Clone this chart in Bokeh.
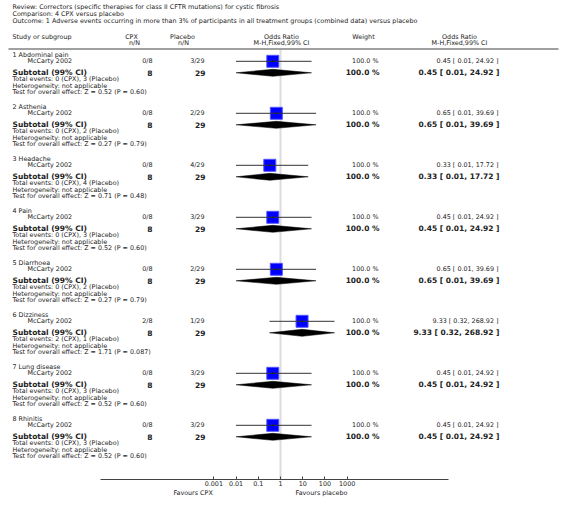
from bokeh.plotting import figure
from bokeh.models import (Range1d, LinearScale, LogAxis, FixedTicker,
                          CustomJSTickFormatter, ColumnDataSource)
from bokeh.core.properties import value
from bokeh.embed import file_html
from bokeh.resources import INLINE

# ---------------- data ----------------
review = "Review:  Correctors (specific therapies for class II CFTR mutations) for cystic fibrosis"
comparison = "Comparison:  4 CPX versus placebo"
outcome = ("Outcome:  1 Adverse events occurring in more than 3% of participants "
           "in all treatment groups (combined data) versus placebo")

subgroups = ["1 Abdominal pain", "2 Asthenia", "3 Headache", "4 Pain",
             "5 Diarrhoea", "6 Dizziness", "7 Lung disease", "8 Rhinitis"]
studies = ["McCarty 2002"] * 8
cpx_events = [0, 0, 0, 0, 0, 2, 0, 0]
cpx_total = [8, 8, 8, 8, 8, 8, 8, 8]
placebo_events = [3, 2, 4, 3, 2, 1, 3, 3]
placebo_total = [29, 29, 29, 29, 29, 29, 29, 29]
odds_ratio = [0.45, 0.65, 0.33, 0.45, 0.65, 9.33, 0.45, 0.45]
ci_low = [0.01, 0.01, 0.01, 0.01, 0.01, 0.32, 0.01, 0.01]
ci_high = [24.92, 39.69, 17.72, 24.92, 39.69, 268.92, 24.92, 24.92]
weights = [100.0, 100.0, 100.0, 100.0, 100.0, 100.0, 100.0, 100.0]
z_values = ["0.52", "0.27", "0.71", "0.52", "0.27", "1.71", "0.52", "0.52"]
p_values = ["0.60", "0.79", "0.48", "0.60", "0.79", "0.087", "0.60", "0.60"]
axis_ticks = [0.001, 0.01, 0.1, 1, 10, 100, 1000]
favours_left = "Favours CPX"
favours_right = "Favours placebo"

# ---------------- layout ----------------
W, H = 566, 509
FRAME_BOTTOM = 479          # page y of the axis line
X_ONE = 280.0               # page x of OR = 1
PX_DEC = 22.22              # pixels per decade
FONT = "DejaVu Sans"
FS = "6.4px"
FSB = "7.5px"
TXT = "#222222"


def lg(px):
    return 10 ** ((px - X_ONE) / PX_DEC)


p = figure(width=W, height=H, output_backend="svg", toolbar_location=None,
           x_axis_type="log", x_axis_location=None, y_axis_location=None,
           x_range=Range1d(lg(0), lg(W)), y_range=Range1d(FRAME_BOTTOM, 0),
           min_border_left=0, min_border_right=0, min_border_top=0,
           min_border_bottom=H - FRAME_BOTTOM)
p.extra_x_ranges = {"px": Range1d(0, W)}
p.extra_x_scales = {"px": LinearScale()}
p.grid.visible = False
p.outline_line_color = None
p.background_fill_color = "white"
p.border_fill_color = "white"

texts = {}


def add(x, y, t, align="left", bold=False):
    key = (align, bold)
    d = texts.setdefault(key, {"x": [], "y": [], "t": []})
    d["x"].append(x)
    d["y"].append(y)
    d["t"].append(t)


# titles
add(12, 6.5, review)
add(12, 13.5, comparison)
add(12, 20.5, outcome)

# headers
HY1, HY2 = 36, 42.5
add(12, HY1, "Study or subgroup")
add(131, HY1, "CPX", "center")
add(134, HY2, "n/N", "center")
add(182, HY1, "Placebo", "center")
add(183, HY2, "n/N", "center")
add(281, HY1, "Odds Ratio", "center")
add(281, HY2, "M-H,Fixed,99% CI", "center")
add(363, HY1, "Weight", "center")
add(459, HY1, "Odds Ratio", "center")
add(459, HY2, "M-H,Fixed,99% CI", "center")

# header rule
p.segment(x0=[8], y0=[48.5], x1=[558], y1=[48.5], x_range_name="px",
          line_color="#a0a0a0", line_width=2)

# line of no effect
p.segment(x0=[1], y0=[49.5], x1=[1], y1=[FRAME_BOTTOM], line_color="#dcdcdc",
          line_width=2)

G0, GSTEP = 54.3, 52.0
box_x, box_y, ci_x0, ci_x1, ci_y = [], [], [], [], []
dia_xs, dia_ys = [], []
for g in range(len(subgroups)):
    y0 = G0 + GSTEP * g
    ys = y0 + 6.5
    yt = y0 + 18
    or_txt = "%.2f [ %.2f, %.2f ]" % (odds_ratio[g], ci_low[g], ci_high[g])
    add(12, y0, subgroups[g])
    add(27, ys, studies[g])
    add(152, ys, "%d/%d" % (cpx_events[g], cpx_total[g]), "right")
    add(204, ys, "%d/%d" % (placebo_events[g], placebo_total[g]), "right")
    add(378, ys, "%.1f %%" % weights[g], "right")
    add(498, ys, or_txt, "right")
    add(12, yt, "Subtotal (99% CI)", bold=True)
    add(152, yt, "%d" % cpx_total[g], "right", True)
    add(205, yt, "%d" % placebo_total[g], "right", True)
    add(379, yt, "%.1f %%" % weights[g], "right", True)
    add(499, yt, or_txt, "right", True)
    add(12, y0 + 24.5, "Total events: %d (CPX), %d (Placebo)" % (cpx_events[g], placebo_events[g]))
    add(12, y0 + 31, "Heterogeneity: not applicable")
    add(12, y0 + 37.5, "Test for overall effect: Z = %s (P = %s)" % (z_values[g], p_values[g]))

    box_x.append(odds_ratio[g])
    box_y.append(ys)
    ci_x0.append(ci_low[g])
    ci_x1.append(ci_high[g])
    ci_y.append(ys)
    dia_xs.append([ci_low[g], odds_ratio[g], ci_high[g], odds_ratio[g]])
    dia_ys.append([yt, yt - 3.5, yt, yt + 3.5])

p.patches(xs=dia_xs, ys=dia_ys, fill_color="black", line_color="black", line_width=0.5)
p.scatter(x=box_x, y=box_y, marker="square", size=12, fill_color="#0000ff",
          line_color="#5555ff", line_width=1)
p.segment(x0=ci_x0, y0=ci_y, x1=ci_x1, y1=ci_y, line_color="#333333", line_width=1)
p.scatter(x=box_x, y=box_y, size=2, fill_color="#222222", line_color=None)

for (align, bold), d in texts.items():
    src = ColumnDataSource(dict(x=d["x"], y=d["y"], t=d["t"]))
    p.text(x="x", y="y", text="t", source=src, x_range_name="px",
           text_align=align, text_baseline="middle",
           text_font=value(FONT), text_font_size=FSB if bold else FS,
           text_font_style="bold" if bold else "normal", text_color=TXT)

# bottom axis
ax = LogAxis(ticker=FixedTicker(ticks=axis_ticks),
             formatter=CustomJSTickFormatter(code="return tick.toString()"),
             bounds=(lg(100), lg(448)))
ax.axis_line_color = "#444444"
ax.axis_line_width = 1
ax.major_tick_in = 3
ax.major_tick_out = 0
ax.major_tick_line_color = "#444444"
ax.minor_tick_line_color = None
ax.major_label_standoff = 1
ax.major_label_text_font = FONT
ax.major_label_text_font_size = FS
ax.major_label_text_color = TXT
p.add_layout(ax, "below")

fav_pos = [lg(192.6), lg(321.0)]
ax2 = LogAxis(ticker=FixedTicker(ticks=fav_pos),
              formatter=CustomJSTickFormatter(
                  args=dict(left=favours_left, right=favours_right),
                  code="return tick < 1 ? left : right"))
ax2.axis_line_color = None
ax2.major_tick_line_color = None
ax2.minor_tick_line_color = None
ax2.major_tick_in = 0
ax2.major_tick_out = 0
ax2.major_label_standoff = 0
ax2.major_label_text_font = FONT
ax2.major_label_text_font_size = FS
ax2.major_label_text_color = TXT
p.add_layout(ax2, "below")

open("out.html", "w").write(file_html(p, INLINE))
